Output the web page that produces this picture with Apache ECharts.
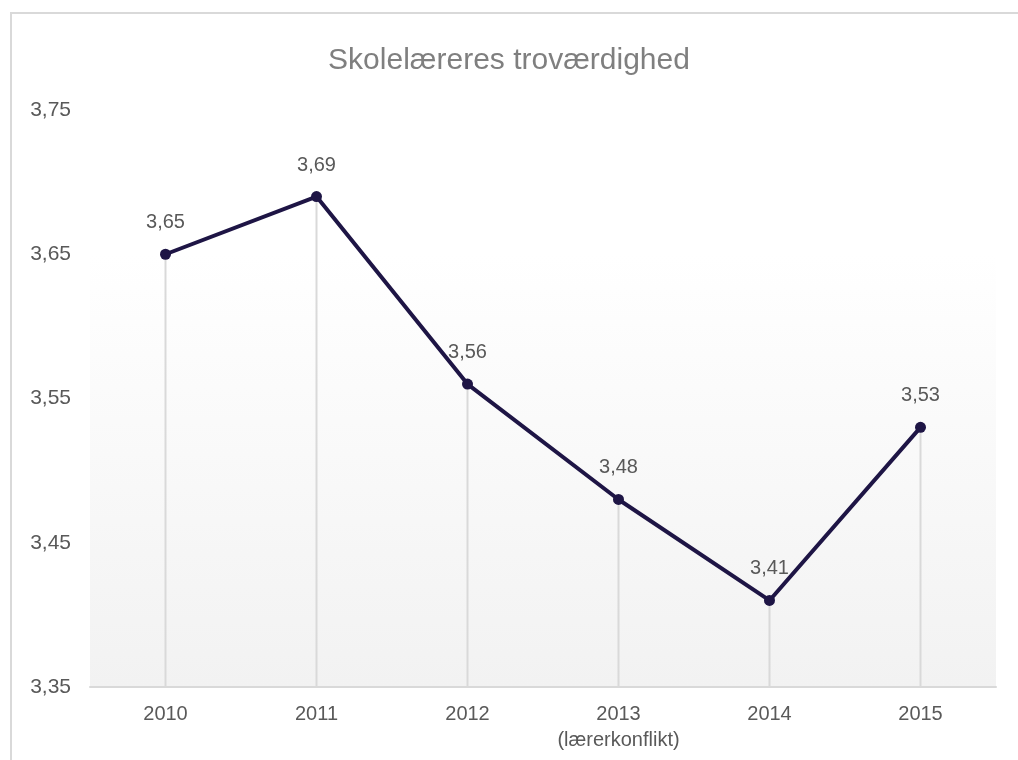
<!DOCTYPE html>
<html>
<head>
<meta charset="utf-8">
<script src="https://cdn.jsdelivr.net/npm/echarts@6/dist/echarts.min.js"></script>
<style>
html,body{margin:0;padding:0;background:#fff;overflow:hidden;}
#frame{position:absolute;left:10px;top:12px;width:1100px;height:900px;border:2px solid #d9d9d9;box-sizing:border-box;}
#chart{position:absolute;left:0;top:0;width:1018px;height:760px;}
</style>
</head>
<body>
<div id="frame"></div>
<div id="chart"></div>
<script>
const categories = ['2010', '2011', '2012', '2013\n(lærerkonflikt)', '2014', '2015'];
const values = [3.65, 3.69, 3.56, 3.48, 3.41, 3.53];
const yTicks = [3.35, 3.45, 3.55, 3.65, 3.75];

const fmt = v => Number(v).toFixed(2).replace('.', ',');
const chart = echarts.init(document.getElementById('chart'));
chart.setOption({
  animation: false,
  title: {
    text: 'Skolelæreres troværdighed',
    left: 'center', top: 41,
    textStyle: { fontFamily: 'Liberation Sans', fontSize: 30, fontWeight: 'normal', color: '#7f7f7f' }
  },
  grid: {
    left: 90, right: 22, top: 110, bottom: 73,
    show: true, borderWidth: 0,
    backgroundColor: new echarts.graphic.LinearGradient(0, 0, 0, 1, [
      { offset: 0, color: '#ffffff' },
      { offset: 0.25, color: '#ffffff' },
      { offset: 1, color: '#f2f2f2' }
    ])
  },
  xAxis: {
    type: 'category',
    data: categories,
    boundaryGap: true,
    axisLine: { lineStyle: { color: '#d9d9d9', width: 2 } },
    axisTick: { show: false },
    axisLabel: { interval: 0, fontFamily: 'Liberation Sans', fontSize: 20, color: '#595959', margin: 14, lineHeight: 26 },
    splitLine: { show: false }
  },
  yAxis: {
    type: 'value',
    min: yTicks[0], max: yTicks[yTicks.length - 1], interval: 0.1,
    axisLine: { show: false },
    axisTick: { show: false },
    splitLine: { show: false },
    axisLabel: { fontFamily: 'Liberation Sans', fontSize: 21, color: '#595959', margin: 19, formatter: v => fmt(v) }
  },
  series: [
    {
      type: 'bar',
      data: values,
      barWidth: 2,
      itemStyle: { color: '#d9d9d9' },
      silent: true,
      z: 1
    },
    {
      type: 'line',
      data: values,
      symbol: 'circle',
      symbolSize: 11,
      lineStyle: { color: '#1e1545', width: 4 },
      itemStyle: { color: '#1e1545' },
      label: {
        show: true, position: 'top', distance: 16,
        fontFamily: 'Liberation Sans', fontSize: 20, color: '#595959',
        formatter: p => fmt(p.value)
      },
      z: 3
    }
  ]
});
</script>
</body>
</html>
